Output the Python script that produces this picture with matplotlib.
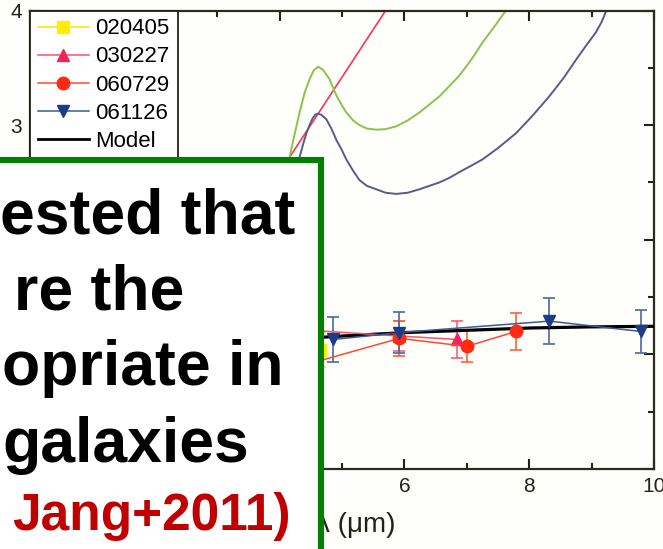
import matplotlib
matplotlib.use("Agg")
import matplotlib.pyplot as plt
from matplotlib.patches import Rectangle

plt.rcParams['font.family'] = ['Liberation Sans', 'DejaVu Sans']

# ---- data ----
# model curves
red_x = [4.0, 4.16, 5.70]
red_y = [2.59, 2.72, 4.00]

green_x = [4.05, 4.16, 4.24, 4.32, 4.40, 4.48, 4.55, 4.62, 4.70, 4.80, 4.91, 5.00,
           5.07, 5.18, 5.28, 5.40, 5.55, 5.70, 5.87, 6.05, 6.24, 6.40, 6.56, 6.72,
           6.86, 6.99, 7.12, 7.25, 7.36, 7.47, 7.56, 7.63]
green_y = [2.40, 2.72, 2.92, 3.11, 3.28, 3.40, 3.48, 3.51, 3.48, 3.40, 3.26, 3.17,
           3.11, 3.04, 3.00, 2.97, 2.96, 2.965, 2.99, 3.04, 3.11, 3.18, 3.25, 3.34,
           3.42, 3.51, 3.61, 3.72, 3.80, 3.88, 3.95, 4.00]

purple_x = [4.22, 4.32, 4.38, 4.43, 4.48, 4.53, 4.57, 4.61, 4.67, 4.75, 4.83, 4.91,
            5.00, 5.07, 5.18, 5.28, 5.40, 5.55, 5.70, 5.87, 6.05, 6.24, 6.40, 6.56,
            6.72, 6.88, 7.05, 7.25, 7.50, 7.79, 8.05, 8.32, 8.55, 8.75, 8.92, 9.07,
            9.16, 9.23]
purple_y = [2.40, 2.72, 2.84, 2.93, 3.00, 3.06, 3.09, 3.10, 3.09, 3.05, 2.97, 2.87,
            2.78, 2.70, 2.60, 2.52, 2.47, 2.44, 2.41, 2.40, 2.41, 2.44, 2.47, 2.50,
            2.54, 2.59, 2.64, 2.70, 2.80, 2.93, 3.08, 3.25, 3.41, 3.57, 3.70, 3.81,
            3.90, 3.99]

model_x = [4.0, 4.56, 5.0, 6.0, 7.0, 8.0, 9.0, 10.0]
model_y = [1.12, 1.145, 1.16, 1.19, 1.21, 1.23, 1.24, 1.245]

s020405_x = [4.64]
s020405_y = [1.04]
s020405_e = [0.15]

s030227_x = [4.50, 5.92, 6.85]
s030227_y = [1.21, 1.16, 1.13]
s030227_e = [0.15, 0.13, 0.16]

s060729_x = [4.55, 5.92, 7.00, 7.79]
s060729_y = [0.93, 1.14, 1.07, 1.20]
s060729_e = [0.15, 0.15, 0.14, 0.16]

s061126_x = [4.86, 5.92, 8.32, 9.79]
s061126_y = [1.13, 1.19, 1.29, 1.20]
s061126_e = [0.20, 0.18, 0.20, 0.19]

legend_labels = ['020405', '030227', '060729', '061126', 'Model']
xticks = [0, 2, 4, 6, 8, 10]
xtick_labels = ['', '', '', '6', '8', '10']   # 0, 2, 4 are covered by the box
yticks = [0, 1, 2, 3, 4]
ytick_labels = ['', '', '', '3', '4']         # 0, 1, 2 are covered by the box

box_lines = ['ested that', 're the', 'opriate in', 'galaxies']
box_ref = 'Jang+2011)'

# ---- figure ----
W, H = 663, 549
fig = plt.figure(figsize=(W / 100, H / 100), dpi=100)
fig.patch.set_facecolor('#fefefa')
ax = fig.add_axes([30 / W, 1 - 469 / H, (654 - 30) / W, (469 - 10.5) / H])
ax.set_facecolor('#fefefa')

ax.plot(red_x, red_y, color='#ff3355', lw=1.2)
ax.plot(green_x, green_y, color='#88c44a', lw=1.4)
ax.plot(purple_x, purple_y, color='#5a5a8c', lw=1.4)

ax.plot(model_x, model_y, color='black', lw=2.3, zorder=4)

series = [
    (s020405_x, s020405_y, s020405_e, 's', '#ffee00', '#f5e800', '#f5e800'),
    (s030227_x, s030227_y, s030227_e, '^', '#f0245a', '#ff4d70', '#ff5a80'),
    (s060729_x, s060729_y, s060729_e, 'o', '#ff2a10', '#ff4a30', '#ff6040'),
    (s061126_x, s061126_y, s061126_e, 'v', '#1c3c88', '#3a5a9a', '#4a6aa0'),
]
handles = []
for xs, ys, es, mk, mc, lc, ec in series:
    ax.errorbar(xs, ys, yerr=es, fmt='none', ecolor=ec, elinewidth=1.2,
                capsize=4, capthick=1.2, zorder=3)
    h, = ax.plot(xs, ys, color=lc, lw=1.1, marker=mk, markersize=9,
                 markerfacecolor=mc, markeredgecolor=mc, zorder=5)
    handles.append(h)
mh, = ax.plot([], [], color='black', lw=2.0)
handles.append(mh)

ax.set_xlim(0, 10)
ax.set_ylim(0, 4)
ax.set_xticks(xticks)
ax.set_xticklabels(xtick_labels)
ax.set_yticks(yticks)
ax.set_yticklabels(ytick_labels)
ax.set_xticks([1, 3, 5, 7, 9], minor=True)
ax.set_yticks([0.5, 1.5, 2.5, 3.5], minor=True)
ax.tick_params(which='both', direction='in', top=True, right=True,
               labelsize=15, colors='#222218', width=1.5)
ax.tick_params(which='major', length=7, pad=6)
ax.tick_params(which='minor', length=4)
for sp in ax.spines.values():
    sp.set_linewidth(1.6)
    sp.set_color('#2b2b20')

leg = ax.legend(handles, legend_labels, loc='upper left', fontsize=16,
                frameon=True, fancybox=False, edgecolor='#222218',
                framealpha=1, borderaxespad=0, borderpad=0.35,
                handlelength=2.3, handletextpad=0.3, labelspacing=0.32)
leg.get_frame().set_linewidth(1.3)

# x label (partly hidden by the box)
fig.text(395 / W, 1 - 525 / H, 'λ (μm)', ha='right', va='center', fontsize=20,
         color='#222218')

# ---- overlay text box ----
rect = Rectangle((-0.05, -0.05), 0.05 + 320.5 / W, 0.05 + 1 - 160 / H,
                 transform=fig.transFigure, facecolor='white',
                 edgecolor='#008000', linewidth=4.4, zorder=10)
fig.add_artist(rect)

lefts = [0, 14, 2, 2]
baselines = [233, 310, 385, 462]
for txt, lx, by in zip(box_lines, lefts, baselines):
    fig.text(lx / W, 1 - by / H, txt, ha='left', va='baseline', fontsize=45,
             fontweight='bold', color='black', zorder=11)
fig.text(12 / W, 1 - 530 / H, box_ref, ha='left', va='baseline', fontsize=37,
         fontweight='bold', color='#c00000', zorder=11)

fig.savefig('out.png', dpi=100, facecolor=fig.get_facecolor())
